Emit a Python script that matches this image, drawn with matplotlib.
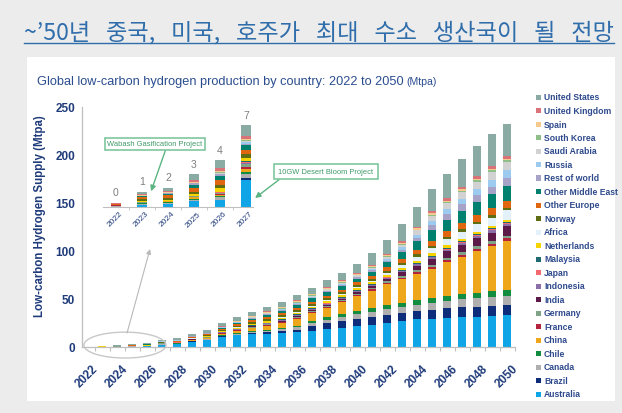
import matplotlib

matplotlib.use("Agg")
import matplotlib.pyplot as plt  # noqa: E402
import numpy as np  # noqa: E402
from matplotlib.lines import Line2D  # noqa: E402
from matplotlib.patches import Ellipse, Rectangle  # noqa: E402
from matplotlib.text import Text  # noqa: E402
from matplotlib.ticker import FixedLocator  # noqa: E402
from matplotlib.transforms import ScaledTranslation  # noqa: E402

W, H = 622, 414
NAVY = "#1f3b7a"
SANS = ["Liberation Sans Narrow", "Liberation Sans", "DejaVu Sans"]

years = list(range(2022, 2051))

# Low-carbon hydrogen supply, Mtpa, 2022..2050 (stacked bottom -> top)
australia = [0, 0.2, 0.3, 0.5, 0.6, 2.4, 2.8, 5.5, 7.0, 10.2, 12.0, 13.2, 13.8, 14.3, 15.2,
             16.8, 18.6, 20.3, 21.8, 23.0, 25.5, 27.3, 28.8, 29.5, 30.2, 30.8, 31.4, 32.0, 33.0]
brazil = [0, 0, 0, 0, 0.05, 0.2, 0.3, 0.4, 0.5, 0.8, 1.0, 1.2, 1.6, 2.0, 2.8,
          4.8, 6.0, 6.8, 7.4, 8.0, 8.0, 8.5, 9.0, 9.5, 10.0, 10.4, 10.6, 11.0, 11.2]
canada = [0.1, 0.1, 0.1, 0.15, 0.2, 0.3, 0.3, 0.4, 0.5, 0.8, 1.0, 1.3, 1.6, 2.0, 2.5,
          3.0, 3.6, 4.5, 5.2, 5.5, 5.8, 6.0, 6.4, 7.2, 7.8, 8.4, 8.8, 9.0, 9.0]
chile = [0, 0.05, 0.05, 0.1, 0.1, 0.2, 0.3, 0.4, 0.5, 0.7, 0.8, 1.0, 1.2, 1.5, 1.8,
         2.2, 2.6, 3.0, 3.5, 3.8, 4.2, 4.5, 4.8, 5.0, 5.2, 5.5, 5.8, 6.0, 6.5]
china = [0, 0.05, 0.05, 0.1, 0.15, 0.3, 0.4, 0.6, 1.0, 1.5, 2.0, 3.0, 3.8, 5.0, 7.0,
         8.5, 10.0, 12.0, 15.5, 18.5, 22.0, 24.5, 27.0, 30.0, 35.0, 39.0, 43.5, 47.0, 51.0]
france = [0.05, 0, 0, 0, 0.05, 0.2, 0.2, 0.25, 0.3, 0.4, 0.5, 0.6, 0.7, 0.8, 0.9,
          0.95, 1.0, 1.05, 1.1, 1.2, 1.35, 1.55, 1.8, 2.0, 2.1, 2.2, 2.3, 2.35, 2.4]
germany = [0, 0.05, 0.05, 0.1, 0.1, 0.2, 0.2, 0.25, 0.3, 0.4, 0.55, 0.65, 0.75, 0.9, 1.0,
           1.05, 1.1, 1.15, 1.2, 1.3, 1.5, 1.8, 2.1, 2.3, 2.4, 2.5, 2.6, 2.7, 2.8]
india = [0, 0, 0, 0, 0, 0.05, 0.05, 0.08, 0.1, 0.2, 0.35, 0.5, 0.7, 0.9, 1.1,
         1.2, 1.35, 1.5, 1.6, 1.9, 2.5, 3.5, 4.7, 6.0, 6.8, 7.6, 8.4, 9.1, 9.7]
indonesia = [0, 0, 0, 0, 0, 0.05, 0.05, 0.08, 0.1, 0.15, 0.25, 0.35, 0.45, 0.5, 0.6,
             0.65, 0.7, 0.75, 0.8, 0.9, 1.0, 1.3, 1.55, 1.8, 1.95, 2.1, 2.2, 2.3, 2.4]
japan = [0, 0, 0, 0, 0.05, 0.1, 0.1, 0.1, 0.1, 0.15, 0.25, 0.3, 0.35, 0.4, 0.42,
         0.44, 0.46, 0.48, 0.5, 0.55, 0.6, 0.65, 0.72, 0.8, 0.85, 0.9, 0.95, 1.0, 1.0]
malaysia = [0, 0, 0, 0, 0.05, 0.1, 0.1, 0.15, 0.2, 0.25, 0.3, 0.4, 0.45, 0.5, 0.55,
            0.6, 0.62, 0.66, 0.7, 0.75, 0.8, 0.9, 1.0, 1.1, 1.2, 1.25, 1.3, 1.35, 1.4]
netherlands = [0, 0.1, 0.1, 0.2, 0.3, 0.3, 0.4, 0.6, 0.8, 1.0, 1.2, 1.35, 1.5, 1.6, 1.7,
               1.75, 1.8, 1.85, 1.9, 1.95, 2.0, 2.05, 2.1, 2.2, 2.25, 2.3, 2.35, 2.4, 2.4]
africa = [0, 0, 0, 0, 0, 0, 0, 0.05, 0.1, 0.15, 0.25, 0.35, 0.45, 0.6, 0.75,
          0.85, 0.95, 1.05, 1.2, 1.5, 2.0, 3.0, 4.2, 5.5, 6.3, 7.1, 7.8, 8.6, 9.4]
norway = [0, 0.15, 0.15, 0.2, 0.3, 0.3, 0.5, 0.8, 1.0, 1.3, 1.6, 1.8, 1.9, 2.0, 2.05,
          2.05, 2.1, 2.1, 2.1, 2.15, 2.2, 2.3, 2.4, 2.5, 2.55, 2.6, 2.7, 2.75, 2.8]
other_europe = [0.15, 0.2, 0.25, 0.35, 0.45, 0.35, 0.45, 0.6, 0.8, 1.1, 1.5, 1.75, 2.0, 2.2, 2.4,
                2.5, 2.6, 2.7, 2.8, 3.0, 3.4, 3.9, 4.6, 5.4, 5.9, 6.4, 6.8, 7.2, 7.6]
other_middle_east = [0, 0.1, 0.15, 0.3, 0.4, 0.45, 0.45, 0.5, 0.6, 0.9, 1.4, 1.8, 2.2, 2.6, 3.0,
                     3.2, 3.4, 3.6, 3.8, 4.3, 5.3, 7.0, 8.8, 10.8, 11.8, 12.7, 13.5, 14.3, 15.0]
rest_of_world = [0, 0, 0.05, 0.1, 0.1, 0.15, 0.15, 0.18, 0.2, 0.3, 0.45, 0.55, 0.7, 0.8, 0.9,
                 1.0, 1.1, 1.2, 1.3, 1.5, 1.9, 2.8, 4.0, 5.4, 6.1, 6.8, 7.4, 8.1, 8.7]
russia = [0, 0, 0, 0, 0.05, 0.1, 0.1, 0.1, 0.1, 0.2, 0.3, 0.4, 0.5, 0.6, 0.7,
          0.75, 0.85, 0.95, 1.0, 1.2, 1.6, 2.3, 3.2, 4.2, 4.9, 5.6, 6.3, 7.0, 7.6]
saudi_arabia = [0, 0, 0, 0.05, 0.1, 0.15, 0.15, 0.18, 0.2, 0.3, 0.45, 0.55, 0.7, 0.8, 0.95,
                1.05, 1.15, 1.3, 1.4, 1.6, 2.0, 2.9, 4.2, 5.6, 6.3, 7.0, 7.6, 8.2, 8.7]
south_korea = [0, 0, 0, 0, 0.05, 0.05, 0.05, 0.08, 0.1, 0.15, 0.2, 0.25, 0.3, 0.4, 0.45,
               0.48, 0.52, 0.56, 0.6, 0.65, 0.72, 0.85, 1.0, 1.2, 1.3, 1.4, 1.5, 1.6, 1.7]
spain = [0, 0.05, 0.05, 0.1, 0.15, 0.15, 0.2, 0.25, 0.3, 0.4, 0.5, 0.6, 0.7, 0.8, 0.85,
         0.9, 0.92, 0.96, 1.0, 1.05, 1.1, 1.2, 1.3, 1.4, 1.5, 1.55, 1.6, 1.65, 1.7]
united_kingdom = [0.05, 0.1, 0.1, 0.15, 0.2, 0.2, 0.25, 0.28, 0.3, 0.4, 0.55, 0.65, 0.8, 0.9, 0.95,
                  1.0, 1.02, 1.06, 1.1, 1.2, 1.35, 1.55, 1.8, 2.1, 2.3, 2.45, 2.6, 2.7, 2.8]
united_states = [0.05, 0.2, 0.3, 0.5, 0.7, 1.0, 1.4, 2.0, 2.4, 3.2, 3.5, 4.0, 4.4, 5.0, 5.4,
                 6.2, 7.0, 8.0, 9.0, 12.0, 15.0, 17.5, 20.5, 23.5, 25.5, 29.0, 31.5, 33.5, 34.0]

countries = ["Australia", "Brazil", "Canada", "Chile", "China", "France", "Germany", "India",
             "Indonesia", "Japan", "Malaysia", "Netherlands", "Africa", "Norway", "Other Europe",
             "Other Middle East", "Rest of world", "Russia", "Saudi Arabia", "South Korea",
             "Spain", "United Kingdom", "United States"]
series = [australia, brazil, canada, chile, china, france, germany, india, indonesia, japan,
          malaysia, netherlands, africa, norway, other_europe, other_middle_east, rest_of_world,
          russia, saudi_arabia, south_korea, spain, united_kingdom, united_states]
colors = ["#10a5e6", "#0d2d7a", "#afafaf", "#128c3e", "#eea71b", "#b5243d", "#7fa386",
          "#5b1a47", "#8a6fa8", "#f46a6e", "#1d6b70", "#f5d400", "#e3f1fa", "#5f6e12",
          "#e0670f", "#00806f", "#a6a2c8", "#9ccbef", "#d2d2d2", "#8fbf88", "#f6c98c",
          "#d8737a", "#8aaaa4"]

inset_years = years[:6]


def fx(px):
    return px / W


def fy(py):
    return 1 - py / H


def stack(ax, idx, width):
    base = np.zeros(len(idx))
    for vals, col in zip(series, colors):
        v = np.array(vals)[idx]
        ax.bar(idx, v, width, bottom=base, color=col, linewidth=0)
        base += v
    return base


fig = plt.figure(figsize=(W / 100, H / 100), dpi=100, facecolor="#ececec")
fig.add_artist(Rectangle((fx(27), fy(402)), fx(615) - fx(27), fy(58) - fy(402),
                         transform=fig.transFigure, facecolor="white", edgecolor="none", zorder=-5))

# headline + underline
head = fig.text(fx(24), fy(33), "~’50년   중국,   미국,   호주가   최대   수소   생산국이   될   전망",
                family=["Noto Sans CJK KR", "DejaVu Sans"], fontsize=16.7, color="#2f6dab",
                ha="left", va="center")

sub = fig.text(fx(37), fy(82), "Global low-carbon hydrogen production by country: 2022 to 2050",
               family=SANS, fontsize=9.2, color="#2a4d8f", ha="left", va="center")

# main stacked bars
ax = fig.add_axes([fx(82), fy(348), fx(515) - fx(82), fy(108) - fy(348)])
ax.set_facecolor("none")
idx = np.arange(len(years))
stack(ax, idx, 0.55)
ax.set_xlim(-1 / 3, 28.53)
ax.set_ylim(0, 250)
for s in ("top", "right"):
    ax.spines[s].set_visible(False)
for s in ("left", "bottom"):
    ax.spines[s].set_color("#bfbfbf")
    ax.spines[s].set_linewidth(0.9)
ax.set_yticks(range(0, 251, 50))
ax.tick_params(axis="y", length=0, pad=5, labelcolor=NAVY, labelsize=8.5)
ax.set_xticks(idx[::2])
ax.set_xticklabels([str(y) for y in years[::2]], rotation=45, ha="right",
                   rotation_mode="anchor")
ax.xaxis.set_minor_locator(FixedLocator(np.arange(0.5, 29, 1)))
ax.tick_params(axis="x", which="major", length=0, pad=11, labelcolor=NAVY, labelsize=8.5)
ax.tick_params(axis="x", which="minor", length=3, color="#bfbfbf", width=0.8)
shift = ScaledTranslation(5 / 100, 0, fig.dpi_scale_trans)
for lab in ax.get_xticklabels():
    lab.set_transform(lab.get_transform() + shift)
for lab in ax.get_xticklabels() + ax.get_yticklabels():
    lab.set_fontfamily(SANS)
    lab.set_fontweight("bold")

fig.text(fx(40), fy(216), "Low-carbon Hydrogen Supply (Mtpa)", rotation=90, family=SANS,
         fontsize=8.3, fontweight="bold", color=NAVY, ha="center", va="center")

# ring round the first years, pointing up to the close-up
ax.add_patch(Ellipse((2.53, 2), 5.47, 27, fill=False, edgecolor="#c8c8c8", lw=1, clip_on=False))
ax.annotate("", xy=(4.2, 102), xytext=(2.67, 14.6),
            arrowprops=dict(arrowstyle="-|>", color="#b8b8b8", lw=0.8, mutation_scale=7,
                            shrinkA=0, shrinkB=0))

# close-up of 2022-2027
axi = fig.add_axes([fx(103), fy(208), fx(253) - fx(103), fy(107) - fy(208)])
axi.set_facecolor("none")
iidx = np.arange(len(inset_years))
totals = stack(axi, iidx, 0.4)
axi.set_xlim(-0.5, 5.27)
axi.set_ylim(0, 9)
for s in ("top", "right", "left"):
    axi.spines[s].set_visible(False)
axi.spines["bottom"].set_color("#bfbfbf")
axi.set_yticks([])
axi.set_xticks(iidx)
axi.set_xticklabels([str(y) for y in inset_years], rotation=45, ha="right",
                    rotation_mode="anchor")
axi.xaxis.set_minor_locator(FixedLocator(np.arange(0.5, 5.5, 1)))
axi.tick_params(axis="x", which="major", length=0, pad=2, labelcolor=NAVY, labelsize=6)
axi.tick_params(axis="x", which="minor", length=2, color="#bfbfbf")
shift_i = ScaledTranslation(3 / 100, 0, fig.dpi_scale_trans)
for lab in axi.get_xticklabels():
    lab.set_transform(lab.get_transform() + shift_i)
    lab.set_fontfamily(SANS)
for i, t in zip(iidx, totals):
    axi.annotate(f"{t:.0f}", (i, t), xytext=(0, 4), textcoords="offset points",
                 ha="center", va="bottom", fontsize=7.5, color="#7f7f7f", family=SANS)

GREEN = "#5cb483"
arrow = dict(arrowstyle="-|>", color=GREEN, lw=1.0, mutation_scale=8, shrinkA=0, shrinkB=0)
wabash = axi.annotate("Wabash Gasification Project", xy=(1.35, 1.4), xytext=(fx(155), fy(145)),
                      textcoords="figure fraction", ha="center", va="center", fontsize=5.6,
                      color="#3f9a68", family=SANS,
                      bbox=dict(boxstyle="square,pad=0.35", facecolor="white",
                                edgecolor="#74c295", lw=1.1),
                      arrowprops=dict(arrow, relpos=(0.62, 0)))
desert = axi.annotate("10GW Desert Bloom Project", xy=(5.35, 0.8), xytext=(fx(326), fy(172.5)),
                      textcoords="figure fraction", ha="center", va="center", fontsize=5.6,
                      color="#3f9a68", family=SANS,
                      bbox=dict(boxstyle="square,pad=0.55", facecolor="white",
                                edgecolor="#74c295", lw=1.1),
                      arrowprops=dict(arrow, relpos=(0.07, 0)), annotation_clip=False)

# legend, top entry = top of the stack
for k, (name, col) in enumerate(zip(countries[::-1], colors[::-1])):
    y = 98 + 13.5 * k
    fig.add_artist(Rectangle((fx(536), fy(y + 2.5)), 5 / W, 5 / H, transform=fig.transFigure,
                             facecolor=col, edgecolor="none"))
    fig.text(fx(544), fy(y), name, family=SANS, fontsize=6.2, fontweight="bold",
             color="#2e4a8c", ha="left", va="center")

fig.canvas.draw()
r = fig.canvas.get_renderer()

# size the two callout labels to their box widths
for ann, target in ((wabash, 95), (desert, 94)):
    w = Text.get_window_extent(ann, r).width
    ann.set_fontsize(ann.get_fontsize() * target / w)

bb = head.get_window_extent(r)
fig.add_artist(Line2D([bb.x0 / W, bb.x1 / W], [fy(43.5), fy(43.5)], transform=fig.transFigure,
                      color="#2f6dab", lw=1.0))
sb = sub.get_window_extent(r)
fig.text(sb.x1 / W + 3 / W, fy(82), "(Mtpa)", family=SANS, fontsize=7.6, color="#2a4d8f",
         ha="left", va="center")

fig.savefig("out.png", dpi=100, facecolor=fig.get_facecolor())
